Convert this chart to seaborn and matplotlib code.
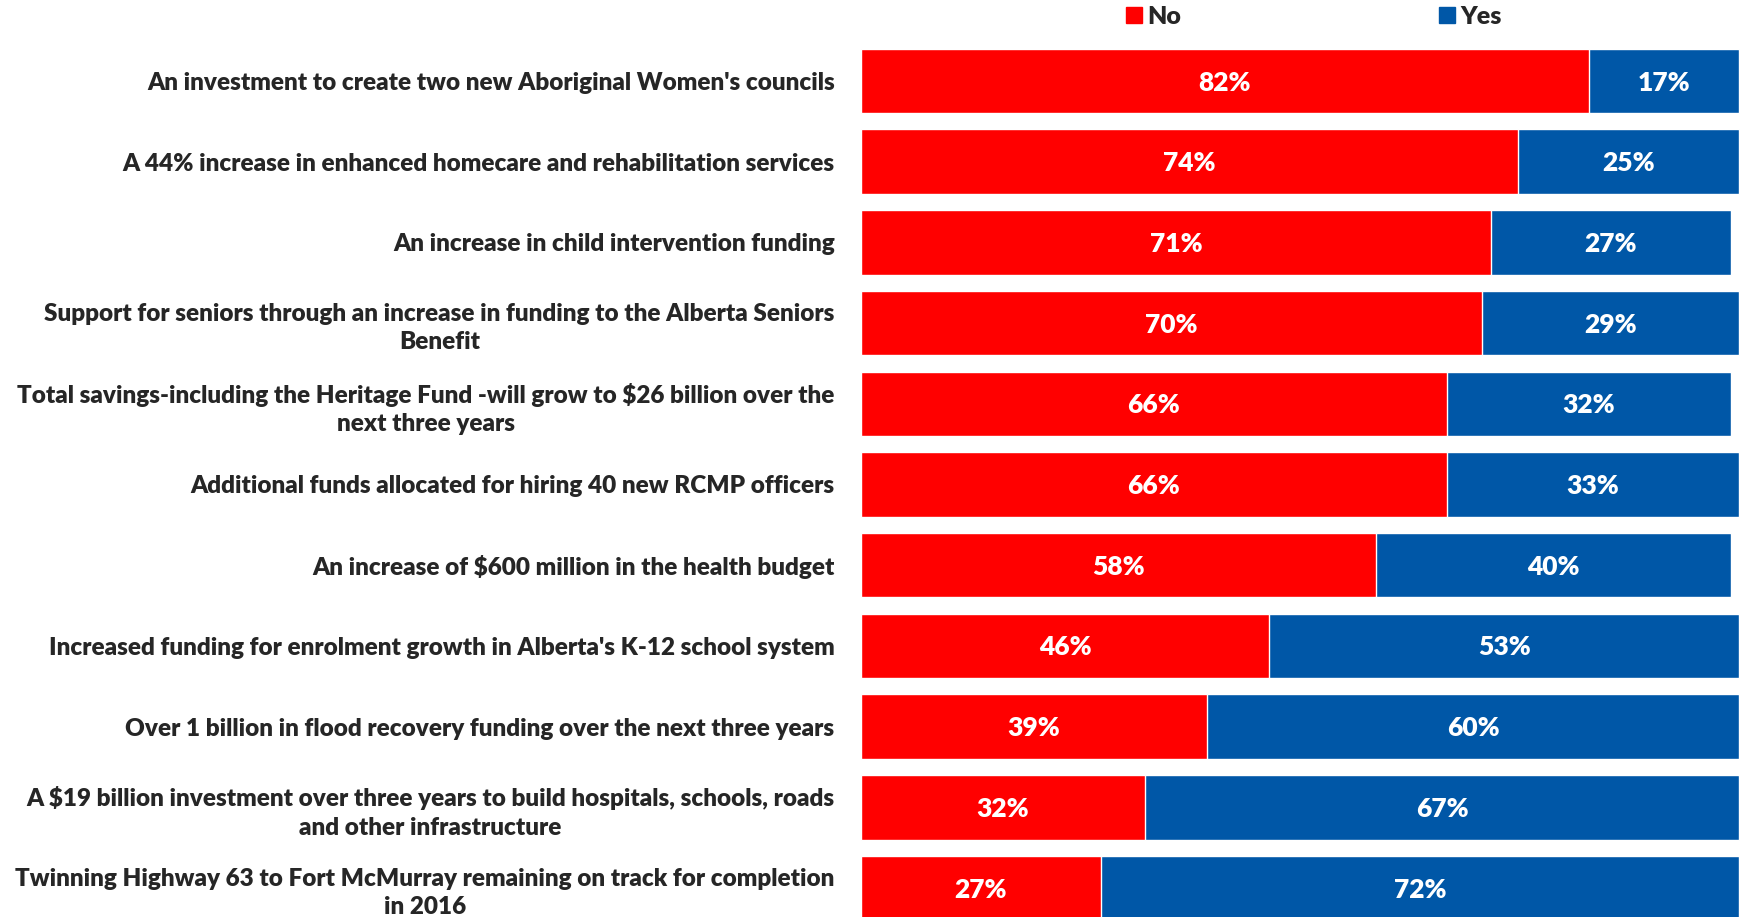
import matplotlib
matplotlib.use("Agg")
import matplotlib.pyplot as plt
from matplotlib.patches import Patch
import pandas as pd
import seaborn as sns

# === data ===
statements = [
    "An investment to create two new Aboriginal Women's councils",
    "A 44% increase in enhanced homecare and rehabilitation services",
    "An increase in child intervention funding",
    "Support for seniors through an increase in funding to the Alberta Seniors\nBenefit",
    "Total savings-including the Heritage Fund -will grow to $26 billion over the\nnext three years",
    "Additional funds allocated for hiring 40 new RCMP officers",
    "An increase of $600 million in the health budget",
    "Increased funding for enrolment growth in Alberta's K-12 school system",
    "Over 1 billion in flood recovery funding over the next three years",
    "A $19 billion investment over three years to build hospitals, schools, roads\nand other infrastructure",
    "Twinning Highway 63 to Fort McMurray remaining on track for completion\nin 2016",
]
no_pct = [82, 74, 71, 70, 66, 66, 58, 46, 39, 32, 27]
yes_pct = [17, 25, 27, 29, 32, 33, 40, 53, 60, 67, 72]

RED = "#FF0000"
BLUE = "#0057A7"

df = pd.DataFrame({"statement": statements, "No": no_pct, "Yes": yes_pct})
df["total"] = df["No"] + df["Yes"]

sns.set_style("white")
plt.rcParams["font.family"] = ["Lato", "DejaVu Sans"]
WEIGHT = "heavy"

W, H = 1743, 917
fig = plt.figure(figsize=(W / 100, H / 100), dpi=100)
left = 861 / W
ax = fig.add_axes([left, 0, 1 - left, 1])

# stacked look: full bar in blue, "No" part on top in red
sns.barplot(data=df, x="total", y="statement", color=BLUE, orient="h",
            width=0.8, ax=ax, saturation=1)
sns.barplot(data=df, x="No", y="statement", color=RED, orient="h",
            width=0.8, ax=ax, saturation=1)

for i, row in df.iterrows():
    ax.text(row["No"] / 2, i + 0.02, f"{row['No']}%", ha="center", va="center",
            color="white", fontsize=19, fontweight=WEIGHT)
    ax.text(row["No"] + row["Yes"] / 2, i + 0.02, f"{row['Yes']}%", ha="center",
            va="center", color="white", fontsize=19, fontweight=WEIGHT)

ax.set_xlim(0, (W - 861) / 8.873)
ax.set_ylim(10.36, -1.004)
ax.set_xlabel("")
ax.set_ylabel("")
ax.set_xticks([])
sns.despine(ax=ax, left=True, bottom=True)
ax.tick_params(axis="y", length=0, pad=19, labelsize=17.5)
for lab in ax.get_yticklabels():
    lab.set_multialignment("center")
    lab.set_fontweight(WEIGHT)
    lab.set_linespacing(1.35)

handles = [Patch(color=RED), Patch(color=BLUE)]
fig.legend(handles, ["No", "Yes"], loc="center left",
           bbox_to_anchor=(1126 / W, 1 - 16.7 / H), ncol=2, frameon=False,
           handlelength=0.65, handleheight=0.65, handletextpad=0.2,
           columnspacing=10.3, borderpad=0, borderaxespad=0,
           prop={"size": 18, "weight": WEIGHT})

fig.savefig("out.png", dpi=100)
